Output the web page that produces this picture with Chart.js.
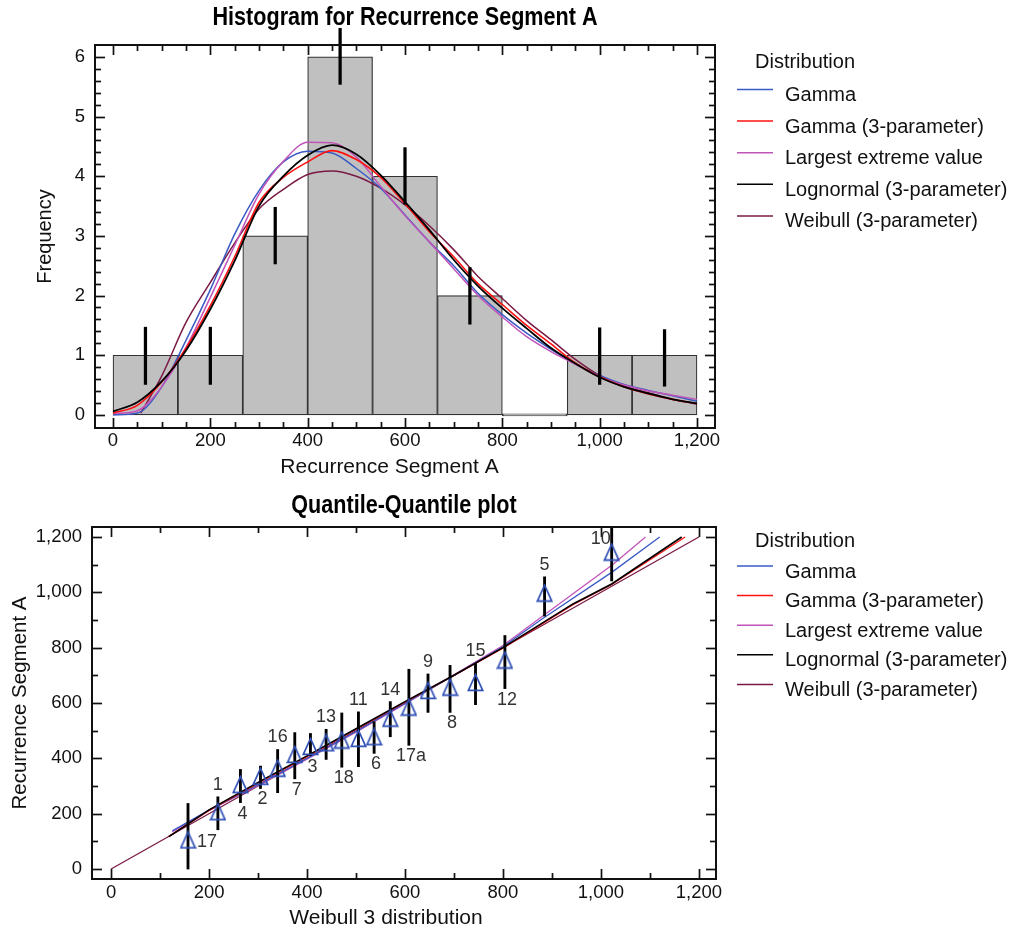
<!DOCTYPE html>
<html><head><meta charset="utf-8">
<script src="https://cdn.jsdelivr.net/npm/chart.js@4.4.1/dist/chart.umd.min.js"></script>
<style>
html,body{margin:0;padding:0;background:#fff;}
#wrap{position:relative;width:1013px;height:935px;background:#fff;}
canvas{position:absolute;left:0;}
#c1{top:0}
#c2{top:480px}
</style></head><body>
<div id="wrap">
<canvas id="c1" width="1013" height="480"></canvas>
<canvas id="c2" width="1013" height="455"></canvas>
</div>
<script>
// ---------- Histogram data ----------
const binCenters = [66.67, 200, 333.33, 466.67, 600, 733.33, 866.67, 1000, 1133.33];
const binCounts  = [1, 1, 3, 6, 4, 2, 0, 1, 1];
const errX    = [66.67, 200, 333.33, 466.67, 600, 733.33, 1000, 1133.33];
const errLow  = [0.51, 0.51, 2.53, 5.54, 3.53, 1.52, 0.51, 0.48];
const errHigh = [1.47, 1.47, 3.48, 6.48, 4.48, 2.47, 1.46, 1.43];

// fitted density curves (scaled to frequency)
const curveX   = [0,50,100,150,200,250,300,350,400,450,500,550,600,650,700,750,800,850,900,950,1000,1050,1100,1150,1200];
const gammaY   = [0.00,0.03,0.47,1.25,2.10,3.03,3.76,4.24,4.42,4.39,4.13,3.80,3.35,2.90,2.50,2.04,1.68,1.37,1.10,0.85,0.66,0.51,0.41,0.32,0.23];
const gamma3Y  = [0.03,0.16,0.55,1.12,1.83,2.65,3.56,3.98,4.24,4.43,4.28,3.98,3.54,3.07,2.65,2.20,1.85,1.50,1.19,0.87,0.64,0.47,0.35,0.26,0.19];
const levY     = [0.02,0.07,0.47,1.13,1.97,2.84,3.70,4.25,4.57,4.56,4.32,3.83,3.34,2.90,2.45,2.00,1.64,1.31,1.06,0.85,0.64,0.50,0.40,0.33,0.26];
const logn3Y   = [0.06,0.21,0.56,1.08,1.77,2.58,3.50,4.00,4.35,4.52,4.37,4.02,3.57,3.10,2.60,2.16,1.79,1.45,1.12,0.86,0.63,0.47,0.36,0.26,0.19];
const weib3X   = [57,100,150,200,250,300,350,400,450,500,550,600,650,700,750,800,850,900,950,1000,1050,1100,1150,1200];
const weib3Y   = [0.03,0.65,1.55,2.22,2.88,3.45,3.78,4.03,4.09,4.00,3.80,3.52,3.17,2.77,2.32,1.95,1.58,1.26,0.93,0.66,0.48,0.37,0.26,0.18];

const histXTicks = [0,200,400,600,800,1000,1200];
const histYTicks = [0,1,2,3,4,5,6];

// ---------- Q-Q data ----------
const qqLabels    = ['17','1','4','2','16','7','3','13','18','11','6','14','17a','9','8','15','12','5','10'];
const qqX         = [157, 218, 264, 305, 340, 375, 407, 439, 471, 505, 537, 570, 608, 647, 692, 744, 804, 885, 1022];
const qqY         = [105, 207, 305, 335, 364, 414, 443, 456, 466, 472, 478, 545, 585, 645, 657, 674, 755, 997, 1145];
const qqErrLow    = [0, 142, 240, 291, 276, 326, 410, 396, 368, 370, 418, 478, 447, 566, 566, 594, 652, 914, 1041];
const qqErrHigh   = [237, 261, 360, 372, 432, 493, 490, 505, 564, 568, 532, 605, 722, 705, 736, 743, 844, 1056, 1240];
const qqLabelSide = ['r','a','b','b','a','b','b','a','b','a','b','a','b','a','b','a','b','a','l'];

const qqGammaX  = [125,200,300,400,500,600,700,800,882,1022,1120];
const qqGammaY  = [138,213,305,400,497,598,700,803,906,1072,1200];
const qqGamma3X = [118,200,300,400,500,600,700,800,943,1022,1172];
const qqGamma3Y = [118,212,310,406,505,603,700,798,955,1028,1200];
const qqLevX    = [125,200,300,400,500,600,700,800,882,1025,1091];
const qqLevY    = [135,212,302,397,495,597,702,808,915,1101,1200];
const qqLogn3X  = [118,200,300,400,500,600,700,800,943,1022,1165];
const qqLogn3Y  = [117,214,313,409,507,605,700,800,958,1030,1200];
const qqWeib3X  = [0,1200];
const qqWeib3Y  = [0,1200];

const qqTicks = [0,200,400,600,800,1000,1200];
const seriesNames = ['Gamma','Gamma (3-parameter)','Largest extreme value','Lognormal (3-parameter)','Weibull (3-parameter)'];

// ---------- styles ----------
const COL = {gamma:'#3a5ac4', gamma3:'#ff1010', lev:'#c254b8', logn3:'#000000', weib3:'#7a1a44'};
const REG = '"Liberation Sans", Arial, sans-serif';
const pts = (xs, ys) => xs.map((v, i) => ({x: v, y: ys[i]}));
const fmt = v => Number(v).toLocaleString('en-US');

const framePlugin = {
  id: 'frameTicks',
  afterDatasetsDraw(chart, args, o) {
    const {ctx, chartArea: a, scales: {x, y}} = chart;
    ctx.save();
    ctx.strokeStyle = '#111';
    ctx.lineWidth = 2;
    ctx.strokeRect(a.left, a.top, a.right - a.left, a.bottom - a.top);
    ctx.lineWidth = 1.7;
    const seg = (x0, y0, x1, y1) => { ctx.beginPath(); ctx.moveTo(x0, y0); ctx.lineTo(x1, y1); ctx.stroke(); };
    const isMajor = (v, m) => Math.abs(v / m - Math.round(v / m)) < 1e-6;
    const nx = Math.round((o.xTo - o.xFrom) / o.xMinor);
    for (let k = 0; k <= nx; k++) {
      const v = o.xFrom + k * o.xMinor;
      const len = isMajor(v, o.xMajor) ? 10 : 6;
      const p = Math.round(x.getPixelForValue(v)) + 0.5;
      seg(p, a.bottom, p, a.bottom - len);
      seg(p, a.top, p, a.top + len);
    }
    const ny = Math.round((o.yTo - o.yFrom) / o.yMinor);
    for (let k = 0; k <= ny; k++) {
      const v = o.yFrom + k * o.yMinor;
      const len = isMajor(v, o.yMajor) ? 10 : 6;
      const p = Math.round(y.getPixelForValue(v)) + 0.5;
      seg(a.left, p, a.left + len, p);
      seg(a.right, p, a.right - len, p);
    }
    ctx.restore();
  }
};

// chart title (condensed bold) and x-axis title
const textPlugin = {
  id: 'chartTexts',
  afterDraw(chart, args, o) {
    const {ctx, chartArea: a} = chart;
    ctx.save();
    ctx.fillStyle = '#000';
    ctx.textBaseline = 'middle';
    ctx.textAlign = 'center';
    ctx.font = 'bold 26px ' + REG;
    ctx.translate((a.left + a.right) / 2, o.titleY);
    ctx.scale(0.83, 1);
    ctx.fillText(o.title, 0, 0);
    ctx.restore();
    ctx.save();
    ctx.fillStyle = '#111';
    ctx.textBaseline = 'middle';
    ctx.textAlign = 'center';
    ctx.font = '21px ' + REG;
    ctx.fillText(o.xTitle, o.xTitleX, o.xTitleY);
    ctx.restore();
  }
};

const legendPlugin = {
  id: 'sideLegend',
  afterDraw(chart, args, o) {
    const ctx = chart.ctx;
    ctx.save();
    ctx.font = '20px ' + REG;
    ctx.fillStyle = '#111';
    ctx.textBaseline = 'middle';
    ctx.textAlign = 'left';
    ctx.fillText(o.title, o.titleX, o.titleY);
    let i = 0;
    chart.data.datasets.forEach(ds => {
      if (!ds.inLegend) return;
      const yy = o.firstY + i * o.step;
      ctx.strokeStyle = ds.borderColor;
      ctx.lineWidth = 1.5;
      ctx.beginPath();
      ctx.moveTo(o.lineX0, yy - o.lineDy);
      ctx.lineTo(o.lineX1, yy - o.lineDy);
      ctx.stroke();
      ctx.fillText(ds.label, o.textX, yy);
      i++;
    });
    ctx.restore();
  }
};

const qqLabelPlugin = {
  id: 'qqLabels',
  afterDatasetsDraw(chart) {
    const {ctx, scales: {x, y}} = chart;
    ctx.save();
    ctx.font = '18px ' + REG;
    ctx.fillStyle = '#333';
    ctx.textBaseline = 'middle';
    qqLabels.forEach((t, i) => {
      const px = x.getPixelForValue(qqX[i]);
      const side = qqLabelSide[i];
      if (side === 'a') {
        ctx.textAlign = 'center';
        ctx.fillText(t, px, y.getPixelForValue(qqErrHigh[i]) - 12);
      } else if (side === 'b') {
        ctx.textAlign = 'center';
        ctx.fillText(t, px + 2, y.getPixelForValue(qqErrLow[i]) + 11);
      } else if (side === 'r') {
        ctx.textAlign = 'left';
        ctx.fillText(t, px + 9, y.getPixelForValue(qqY[i]) + 2);
      } else {
        ctx.textAlign = 'right';
        ctx.fillText(t, px - 1, y.getPixelForValue(qqY[i]) - 13);
      }
    });
    ctx.restore();
  }
};

// tall open triangle marker
const tri = document.createElement('canvas');
tri.width = 17; tri.height = 19;
(() => {
  const c = tri.getContext('2d');
  c.strokeStyle = '#2f4fb4';
  c.lineWidth = 1.7;
  c.beginPath();
  c.moveTo(8.5, 1.5); c.lineTo(1.3, 17.4); c.lineTo(15.7, 17.4); c.closePath();
  c.stroke();
})();

function lineDs(label, data, color, order, width, smooth) {
  return {type: 'line', label, data, borderColor: color, backgroundColor: color, borderWidth: width,
          pointRadius: 0, fill: false, order, inLegend: true,
          cubicInterpolationMode: smooth ? 'monotone' : 'default', tension: 0};
}

function axisCommon(tickVals, pad) {
  return {
    type: 'linear', offset: false,
    grid: {display: false, drawTicks: false}, border: {display: false},
    afterBuildTicks: s => { s.ticks = tickVals.map(v => ({value: v})); },
    ticks: {font: {family: REG, size: 18.5}, color: '#111', padding: pad, autoSkip: false, maxRotation: 0,
            callback: v => fmt(v)}
  };
}

// ---------- Chart 1: histogram ----------
new Chart(document.getElementById('c1'), {
  type: 'bar',
  data: {datasets: [
    lineDs(seriesNames[0], pts(curveX, gammaY), COL.gamma, 4, 1.5, true),
    lineDs(seriesNames[1], pts(curveX, gamma3Y), COL.gamma3, 2, 1.6, true),
    lineDs(seriesNames[2], pts(curveX, levY), COL.lev, 3, 1.5, true),
    lineDs(seriesNames[3], pts(curveX, logn3Y), COL.logn3, 1, 1.8, true),
    lineDs(seriesNames[4], pts(weib3X, weib3Y), COL.weib3, 5, 1.5, true),
    {type: 'bar', label: 'Frequency', data: pts(binCenters, binCounts), backgroundColor: '#c0c0c0',
     borderColor: '#333', borderWidth: 1.2, borderSkipped: false, barPercentage: 1, categoryPercentage: 1,
     minBarLength: 2, grouped: false, order: 10},
    {type: 'bar', label: 'Error', data: errX.map((v, i) => ({x: v, y: [errLow[i], errHigh[i]]})),
     backgroundColor: '#000', borderWidth: 0, barThickness: 2.6, grouped: false, clip: false, order: 0}
  ]},
  options: {
    responsive: false, animation: false, devicePixelRatio: 1,
    layout: {padding: {left: 0, right: 298, top: 45, bottom: 0}},
    plugins: {
      legend: {display: false}, tooltip: {enabled: false}, title: {display: false},
      chartTexts: {title: 'Histogram for Recurrence Segment A', titleY: 18,
                   xTitle: 'Recurrence Segment A', xTitleX: 389.5, xTitleY: 467},
      frameTicks: {xFrom: 0, xTo: 1200, xMinor: 50, xMajor: 200, yFrom: 0, yTo: 6, yMinor: 0.2, yMajor: 1},
      sideLegend: {title: 'Distribution', titleX: 755, titleY: 62.7, lineX0: 737, lineX1: 773, textX: 785,
                   firstY: 95.5, step: 31.6, lineDy: 6}
    },
    scales: {
      x: Object.assign(axisCommon(histXTicks, 2), {
        min: -37, max: 1237,
        afterFit: s => { s.height = 52; }
      }),
      y: Object.assign(axisCommon(histYTicks, 10), {
        min: -0.22, max: 6.2,
        afterFit: s => { s.width = 95; },
        title: {display: true, text: 'Frequency', color: '#111', font: {family: REG, size: 20},
                padding: {top: 33, bottom: 0}}
      })
    }
  },
  plugins: [framePlugin, legendPlugin, textPlugin]
});

// ---------- Chart 2: Q-Q plot ----------
new Chart(document.getElementById('c2'), {
  type: 'bar',
  data: {datasets: [
    lineDs(seriesNames[0], pts(qqGammaX, qqGammaY), COL.gamma, 4, 1.3, false),
    lineDs(seriesNames[1], pts(qqGamma3X, qqGamma3Y), COL.gamma3, 3, 1.3, false),
    lineDs(seriesNames[2], pts(qqLevX, qqLevY), COL.lev, 5, 1.3, false),
    lineDs(seriesNames[3], pts(qqLogn3X, qqLogn3Y), COL.logn3, 2, 1.6, false),
    lineDs(seriesNames[4], pts(qqWeib3X, qqWeib3Y), COL.weib3, 6, 1.3, false),
    {type: 'bar', label: 'Error', data: qqX.map((v, i) => ({x: v, y: [qqErrLow[i], qqErrHigh[i]]})),
     backgroundColor: '#000', borderWidth: 0, barThickness: 2.2, grouped: false, order: 1},
    {type: 'line', label: 'Observed', data: pts(qqX, qqY), showLine: false, pointStyle: tri,
     pointRadius: 8, borderColor: '#2f4fb4', order: 0}
  ]},
  options: {
    responsive: false, animation: false, devicePixelRatio: 1,
    layout: {padding: {left: 0, right: 297, top: 47, bottom: 0}},
    plugins: {
      legend: {display: false}, tooltip: {enabled: false}, title: {display: false},
      chartTexts: {title: 'Quantile-Quantile plot', titleY: 26,
                   xTitle: 'Weibull 3 distribution', xTitleX: 386, xTitleY: 438},
      frameTicks: {xFrom: 0, xTo: 1200, xMinor: 100, xMajor: 200, yFrom: 0, yTo: 1200, yMinor: 100, yMajor: 200},
      sideLegend: {title: 'Distribution', titleX: 755, titleY: 61, lineX0: 737, lineX1: 773, textX: 785,
                   firstY: 92, step: 29.6, lineDy: 6}
    },
    scales: {
      x: Object.assign(axisCommon(qqTicks, 3), {
        min: -39, max: 1235,
        afterFit: s => { s.height = 56; }
      }),
      y: Object.assign(axisCommon(qqTicks, 10), {
        min: -36, max: 1236,
        afterFit: s => { s.width = 92; },
        title: {display: true, text: 'Recurrence Segment A', color: '#111', font: {family: REG, size: 20.5},
                padding: {top: 8, bottom: 0}}
      })
    }
  },
  plugins: [framePlugin, legendPlugin, textPlugin, qqLabelPlugin]
});
</script>
</body></html>
